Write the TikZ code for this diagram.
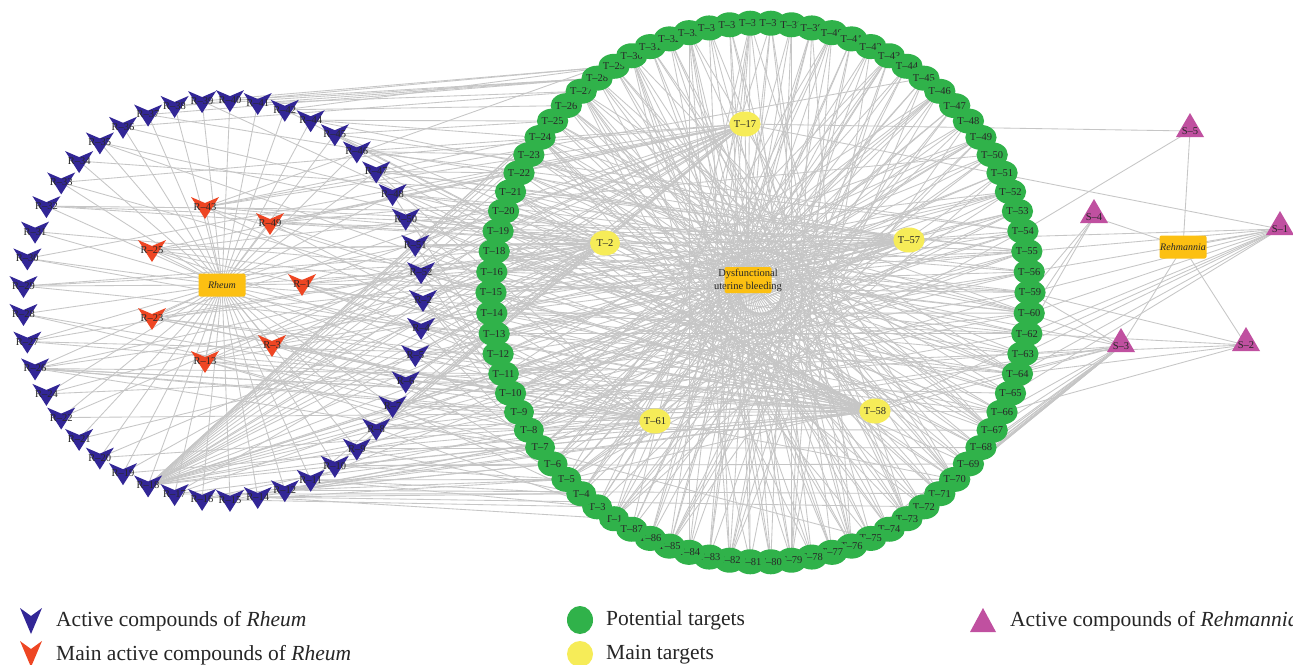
\documentclass[tikz,border=0pt]{standalone}
\usepackage{fontspec}
\setmainfont{Liberation Serif}
\usetikzlibrary{shapes.geometric}
\definecolor{rblue}{RGB}{50,38,150}
\definecolor{rred}{RGB}{238,70,35}
\definecolor{tgreen}{RGB}{48,178,74}
\definecolor{tyellow}{RGB}{246,236,88}
\definecolor{smag}{RGB}{192,80,160}
\definecolor{hub}{RGB}{252,192,18}
\definecolor{edgec}{RGB}{198,198,198}
\definecolor{txt}{RGB}{40,40,40}
\pgfdeclarelayer{bg}
\pgfsetlayers{bg,main}
\begin{document}
\begin{tikzpicture}[x=1pt,y=-1pt,
  lab/.style={font=\fontsize{10.5}{10.5}\selectfont, text=txt, inner sep=0pt},
  edge/.style={draw=edgec, line width=0.85pt},
  hubbox/.style={fill=hub, rounded corners=2pt, minimum width=47pt, minimum height=23pt, inner sep=0pt, text=txt, font=\fontsize{10}{10}\selectfont\itshape},
  tnode/.style={ellipse, fill=tgreen, minimum width=30pt, minimum height=25pt, inner sep=0pt, text=txt, font=\fontsize{10.5}{10.5}\selectfont},
  mnode/.style={tnode, fill=tyellow},
  legtext/.style={anchor=west, inner sep=0pt, text=black!85, font=\fontsize{21.5}{21.5}\selectfont}
]
\useasboundingbox (0,0) rectangle (1293,664);

% ---------- Rheum compounds on circle ----------
\foreach \n [count=\i from 0] in {2,4,5,6,7,8,9,10,11,12,14,15,16,17,18,19,20,21,22,24,26,27,28,29,30,31,32,33,34,35,36,37,38,39,40,41,42,44,45,46,47,48,50,51,52} {
  \coordinate (p) at ({223+200*cos(8*\i)},{300+200*sin(8*\i)});
  \fill[rblue] (p) +(-14,-10) -- +(0,-4) -- +(14,-10) -- +(0,12) -- cycle;
  \node[lab] (R\n) at (p) {R–\n};
}
% main Rheum compounds
\foreach \n/\x/\y in {43/205/207, 49/270/223, 25/152/250, 1/302/284, 23/152/318, 3/272/345, 13/205/361} {
  \fill[rred] (\x,\y) +(-14,-10) -- +(0,-4) -- +(14,-10) -- +(0,12) -- cycle;
  \node[lab] (R\n) at (\x,\y) {R–\n};
}
\node[hubbox] (Rh) at (222,285) {Rheum};

% ---------- targets on circle ----------
\foreach \n [count=\k from 0] in {1,3,4,5,6,7,8,9,10,11,12,13,14,15,16,18,19,20,21,22,23,24,25,26,27,28,29,30,31,32,33,34,35,36,37,38,39,40,41,42,43,44,45,46,47,48,49,50,51,52,53,54,55,56,59,60,62,63,64,65,66,67,68,69,70,71,72,73,74,75,76,77,78,79,80,81,82,83,84,85,86,87} {
  \pgfmathsetmacro\ang{180+(\k-13)*4.390244}
  \node[tnode] (T\n) at ({760.5+269.5*cos(\ang)},{292.5+269.5*sin(\ang)}) {T–\n};
  \coordinate (C\k) at (T\n.center);
}
% main targets
\node[mnode] (T17) at (745,124) {T–17};
\node[mnode] (T2) at (605,243) {T–2};
\node[mnode] (T57) at (909,240) {T–57};
\node[mnode] (T58) at (875,411) {T–58};
\node[mnode] (T61) at (655,421) {T–61};
\node[hubbox, minimum height=26pt] (D) at (748,280) {};
\node[lab, align=center, font=\fontsize{10.5}{13}\selectfont] (Dt) at (748,280) {Dysfunctional\\uterine bleeding};

% ---------- Rehmannia ----------
\foreach \n/\x/\y in {1/1280/229, 2/1246/345, 3/1121/346, 4/1094/217, 5/1190/131} {
  \fill[smag] (\x,\y) +(0,-18) -- +(14,6) -- +(-14,6) -- cycle;
  \node[lab] (S\n) at (\x,\y) {S–\n};
}
\node[hubbox] (Re) at (1183,247) {Rehmannia};

% ---------- legend ----------
\fill[rblue] (31,621) +(-11,-13) -- +(0,-5) -- +(11,-13) -- +(0,13) -- cycle;
\node[legtext] (L1) at (56,621) {Active compounds of \textit{Rheum}};
\fill[rred] (31,654) +(-11,-13) -- +(0,-5) -- +(11,-13) -- +(0,13) -- cycle;
\node[legtext] (L2) at (56,655) {Main active compounds of \textit{Rheum}};
\fill[tgreen] (580,620) ellipse [x radius=13, y radius=14];
\node[legtext] (L3) at (606,620) {Potential targets};
\fill[tyellow] (580,654) ellipse [x radius=13, y radius=13];
\node[legtext] (L4) at (606,655) {Main targets};
\fill[smag] (983,621) +(0,-13) -- +(13,11) -- +(-13,11) -- cycle;
\node[legtext] (L5) at (1010,621) {Active compounds of \textit{Rehmannia}};

% ---------- edges ----------
\begin{pgfonlayer}{bg}
\fill[white] (0,0) rectangle (1293,664);
\foreach \n in {1,...,52} \draw[edge] (Rh.center) -- (R\n.center);
\foreach \n in {1,...,87} \draw[edge] (D.center) -- (T\n.center);
\foreach \n in {1,...,5} \draw[edge] (Re.center) -- (S\n.center);
\foreach \i in {0,...,81} {
  \pgfmathtruncatemacro\j{mod(\i+34+2*mod(\i,3),82)}
  \pgfmathtruncatemacro\jj{mod(\i+37+2*mod(\i,2),82)}
  \draw[edge] (C\i) -- (C\j);
  \draw[edge] (C\i) -- (C\jj);
}
\foreach \t in {T17,T2,T57,T58,T61,T19,T20,T21,T22,T23,T24,T25,T26,T27,T18,T16,T15,T14,T13,T12,T11,T53,T54,T55,T56,T60,T62} \draw[edge] (R18.center) -- (\t.center);
\foreach \t in {T58,T61,T2,T9,T10,T11,T7,T57} \draw[edge] (R26.center) -- (\t.center);
\foreach \s/\t in {R27/T58,R27/T2,R27/T12,R28/T61,R28/T8,R29/T2,R29/T57,R29/T13,R30/T17,R30/T58,R31/T16,
  R32/T57,R32/T2,R32/T20,R33/T17,R33/T58,R34/T21,R35/T19,R35/T58,R36/T27,R36/T2,R37/T28,R37/T57,
  R38/T28,R38/T29,R39/T29,R39/T58,R40/T28,R41/T28,R41/T27,R42/T29,R42/T26,R42/T58,R44/T25,R44/T24,R44/T57,
  R45/T54,R45/T25,R45/T2,R45/T58,R46/T58,R46/T54,R46/T17,R46/T23,R47/T58,R47/T55,R47/T57,R47/T22,R47/T61,
  R48/T57,R48/T17,R48/T58,R48/T12,R48/T56,R50/T2,R50/T58,R50/T61,R50/T18,R50/T59,R51/T17,R51/T57,R51/T58,R51/T5,R51/T60,
  R52/T58,R52/T61,R52/T2,R52/T4,R52/T62,R2/T57,R2/T17,R2/T58,R2/T6,R2/T63,R2/T10,R4/T58,R4/T2,R4/T17,R4/T3,R4/T64,
  R5/T57,R5/T61,R5/T58,R5/T7,R5/T14,R6/T17,R6/T2,R6/T58,R6/T65,R6/T5,R7/T57,R7/T17,R7/T61,R7/T4,R7/T66,
  R8/T58,R8/T2,R8/T17,R8/T3,R8/T67,R8/T9,R9/T57,R9/T61,R9/T4,R9/T68,R9/T17,R10/T58,R10/T5,R10/T6,R10/T69,R10/T2,
  R11/T17,R11/T4,R11/T3,R11/T70,R11/T57,R12/T5,R12/T6,R12/T58,R12/T71,R12/T61,R14/T4,R14/T7,R14/T1,R14/T72,
  R15/T3,R15/T5,R15/T61,R16/T6,R16/T58,R16/T8,R17/T4,R17/T7,R17/T57,R17/T2,R19/T17,R19/T58,R20/T2,R20/T61,
  R21/T57,R22/T58,R22/T17,R24/T2,R24/T11} \draw[edge] (\s.center) -- (\t.center);
\foreach \s in {R43,R49,R25,R1,R23,R3,R13} {
  \foreach \t in {T17,T2,T57,T58,T61} \draw[edge] (\s.center) -- (\t.center);
}
\foreach \s/\t in {R43/T24,R43/T30,R43/T45,R49/T50,R49/T22,R25/T20,R25/T15,R1/T59,R1/T12,R23/T10,R23/T66,R3/T8,R3/T70,R13/T6,R13/T75} \draw[edge] (\s.center) -- (\t.center);
\foreach \t in {T57,T59,T60,T62,T63,T64,T65,T58,T56,T55,T17} \draw[edge] (S1.center) -- (\t.center);
\foreach \t in {T59,T62,T63,T64,T66} \draw[edge] (S2.center) -- (\t.center);
\foreach \t in {T59,T60,T58,T66,T67,T68,T69,T70,T71,T72,T73,T74,T75,T76,T61,T2,T8,T10,T5} \draw[edge] (S3.center) -- (\t.center);
\foreach \t in {T59,T60,T62} \draw[edge] (S4.center) -- (\t.center);
\foreach \t in {T54,T17} \draw[edge] (S5.center) -- (\t.center);
\end{pgfonlayer}
\end{tikzpicture}
\end{document}
